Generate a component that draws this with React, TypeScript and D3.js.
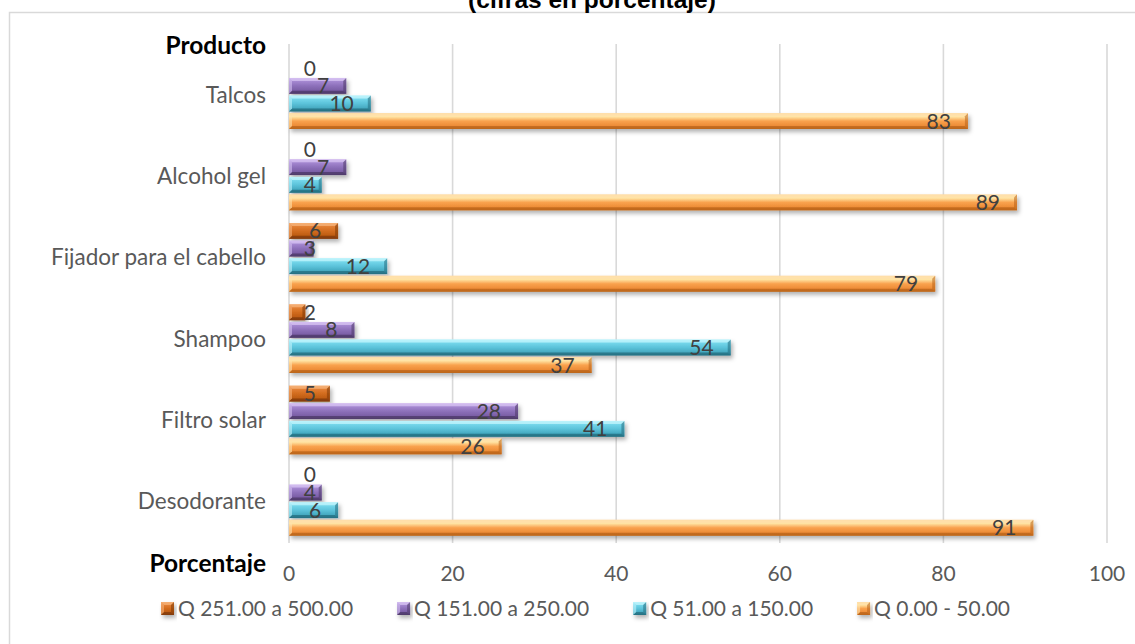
import React from "react";
import * as d3 from "d3";

// Productos (de arriba hacia abajo) y porcentajes por rango de gasto
const categories = [
  "Talcos",
  "Alcohol gel",
  "Fijador para el cabello",
  "Shampoo",
  "Filtro solar",
  "Desodorante",
];
const seriesNames = [
  "Q 251.00 a 500.00",
  "Q 151.00 a 250.00",
  "Q 51.00 a 150.00",
  "Q 0.00 - 50.00",
];
const q251a500 = [0, 0, 6, 2, 5, 0];
const q151a250 = [7, 7, 3, 8, 28, 4];
const q51a150 = [10, 4, 12, 54, 41, 6];
const q0a50 = [83, 89, 79, 37, 26, 91];
const xTicks = [0, 20, 40, 60, 80, 100];

const seriesValues = [q251a500, q151a250, q51a150, q0a50];

// gradient stops (top -> bottom) per series, plus bevel shades
const palettes = [
  { stops: ["#f3a465", "#e27f34", "#d26c1f", "#bd5b12", "#8f420a"], light: "#f6b37a", dark: "#7e3806" },
  { stops: ["#cdb5ee", "#a487d0", "#8d70ba", "#7a5ea5", "#584174"], light: "#d6c2f2", dark: "#4c3866" },
  { stops: ["#b0f0fb", "#74d6ea", "#5cc3da", "#45a9c0", "#2a7c8f"], light: "#c0f4fc", dark: "#246c7d" },
  { stops: ["#fdd59a", "#ffe6a6", "#f9a24e", "#ed8c36", "#c86f1e"], light: "#ffe2ae", dark: "#b8621a" },
];

const W = 1135;
const H = 644;
const plotLeft = 289;
const plotRight = 1107;
const gridTop = 44;
const gridBottom = 543;
const bandTop = 54;
const bandBottom = 542;

const labelFont = "Lato, 'Open Sans', sans-serif";

function measure(text: string, font: string): number {
  const c = document.createElement("canvas").getContext("2d");
  if (!c) return text.length * 9;
  c.font = font;
  return c.measureText(text).width;
}

function BevelBar({ x0, x1, y, h, p, id }: { x0: number; x1: number; y: number; h: number; p: any; id: string }) {
  const w = Math.max(0, x1 - x0);
  const b = Math.min(3, w / 2, h / 2);
  const y1 = y + h;
  return (
    <g filter="url(#barShadow)">
      <rect x={x0} y={y} width={w} height={h} fill={`url(#${id})`} />
      {w > 0 && (
        <>
          <polygon points={`${x0},${y} ${x1},${y} ${x1 - b},${y + b} ${x0 + b},${y + b}`} fill={p.light} opacity={0.75} />
          <polygon points={`${x0},${y1} ${x1},${y1} ${x1 - b},${y1 - b} ${x0 + b},${y1 - b}`} fill={p.dark} opacity={0.7} />
          <polygon points={`${x1},${y} ${x1},${y1} ${x1 - b},${y1 - b} ${x1 - b},${y + b}`} fill={p.dark} opacity={0.55} />
          <polygon points={`${x0},${y} ${x0},${y1} ${x0 + b},${y1 - b} ${x0 + b},${y + b}`} fill={p.light} opacity={0.6} />
        </>
      )}
    </g>
  );
}

export default function App() {
  const x = d3.scaleLinear().domain([0, 100]).range([plotLeft, plotRight]);
  const y = d3.scaleBand<string>().domain(categories).range([bandTop, bandBottom]).paddingInner(0);
  const inner = d3
    .scaleBand<number>()
    .domain(d3.range(seriesNames.length))
    .range([0, y.bandwidth()])
    .paddingInner(0.1)
    .paddingOuter(0.36);

  const legendFontSize = 21;
  const legendFont = `${legendFontSize}px Lato`;
  const marker = 13;
  let lx = 161;
  const legendItems = seriesNames.map((name, i) => {
    const item = { name, i, x: lx };
    lx += marker + 4 + measure(name, legendFont) + 44;
    return item;
  });

  return (
    <div style={{ position: "fixed", left: 0, top: 0 }}>
      <svg width={W} height={H} style={{ display: "block", background: "#fff" }}>
        <defs>
          {palettes.map((p, i) => (
            <linearGradient key={i} id={`grad${i}`} x1="0" y1="0" x2="0" y2="1">
              <stop offset="0" stopColor={p.stops[0]} />
              <stop offset="0.22" stopColor={p.stops[1]} />
              <stop offset="0.5" stopColor={p.stops[2]} />
              <stop offset="0.8" stopColor={p.stops[3]} />
              <stop offset="1" stopColor={p.stops[4]} />
            </linearGradient>
          ))}
          <filter id="barShadow" x="-10%" y="-40%" width="130%" height="200%">
            <feDropShadow dx="2" dy="3" stdDeviation="2" floodColor="#000" floodOpacity="0.3" />
          </filter>
        </defs>

        {/* chart frame */}
        <rect x={9.5} y={12.5} width={W} height={H} fill="#fff" stroke="#d9d9d9" strokeWidth={1.5} />

        {/* title */}
        <text
          x={592}
          y={8}
          textAnchor="middle"
          fontFamily="'Liberation Sans', Arial, sans-serif"
          fontWeight="bold"
          fontSize={24.5}
          fill="#000"
        >
          (cifras en porcentaje)
        </text>

        {/* gridlines */}
        {xTicks.map((t) => (
          <line key={t} x1={x(t)} x2={x(t)} y1={gridTop} y2={gridBottom} stroke="#d9d9d9" strokeWidth={1.6} />
        ))}

        {/* bars */}
        {categories.map((cat, ci) => (
          <g key={cat} transform={`translate(0,${y(cat)})`}>
            {seriesValues.map((vals, si) => (
              <BevelBar
                key={si}
                x0={x(0)}
                x1={x(vals[ci])}
                y={inner(si) as number}
                h={inner.bandwidth()}
                p={palettes[si]}
                id={`grad${si}`}
              />
            ))}
          </g>
        ))}

        {/* value labels */}
        {categories.map((cat, ci) => (
          <g key={cat + "-lbl"} transform={`translate(0,${y(cat)})`}>
            {seriesValues.map((vals, si) => (
              <text
                key={si}
                x={Math.max(x(vals[ci]) - 17, x(0) + 27)}
                y={(inner(si) as number) + inner.bandwidth() / 2}
                dy="0.36em"
                textAnchor="end"
                fontFamily={labelFont}
                fontSize={21}
                fill="#404040"
              >
                {vals[ci]}
              </text>
            ))}
          </g>
        ))}

        {/* category labels */}
        {categories.map((cat) => (
          <text
            key={cat + "-cat"}
            x={266}
            y={(y(cat) as number) + y.bandwidth() / 2}
            dy="0.36em"
            textAnchor="end"
            fontFamily={labelFont}
            fontSize={22.5}
            fill="#595959"
          >
            {cat}
          </text>
        ))}

        {/* x tick labels */}
        {xTicks.map((t) => (
          <text
            key={t + "-tick"}
            x={x(t)}
            y={581}
            textAnchor="middle"
            fontFamily={labelFont}
            fontSize={21}
            fill="#595959"
          >
            {t}
          </text>
        ))}

        {/* axis titles */}
        <text x={266} y={54} textAnchor="end" fontFamily={labelFont} fontWeight="bold" fontSize={24.5} fill="#000">
          Producto
        </text>
        <text x={266} y={572} textAnchor="end" fontFamily={labelFont} fontWeight="bold" fontSize={24.5} fill="#000">
          Porcentaje
        </text>

        {/* legend */}
        {legendItems.map((it) => (
          <g key={it.name} transform={`translate(${it.x},${602})`}>
            <BevelBar x0={0} x1={marker} y={0} h={marker} p={palettes[it.i]} id={`grad${it.i}`} />
            <text
              x={marker + 4}
              y={marker / 2}
              dy="0.36em"
              fontFamily={labelFont}
              fontSize={legendFontSize}
              fill="#595959"
            >
              {it.name}
            </text>
          </g>
        ))}
      </svg>
    </div>
  );
}
